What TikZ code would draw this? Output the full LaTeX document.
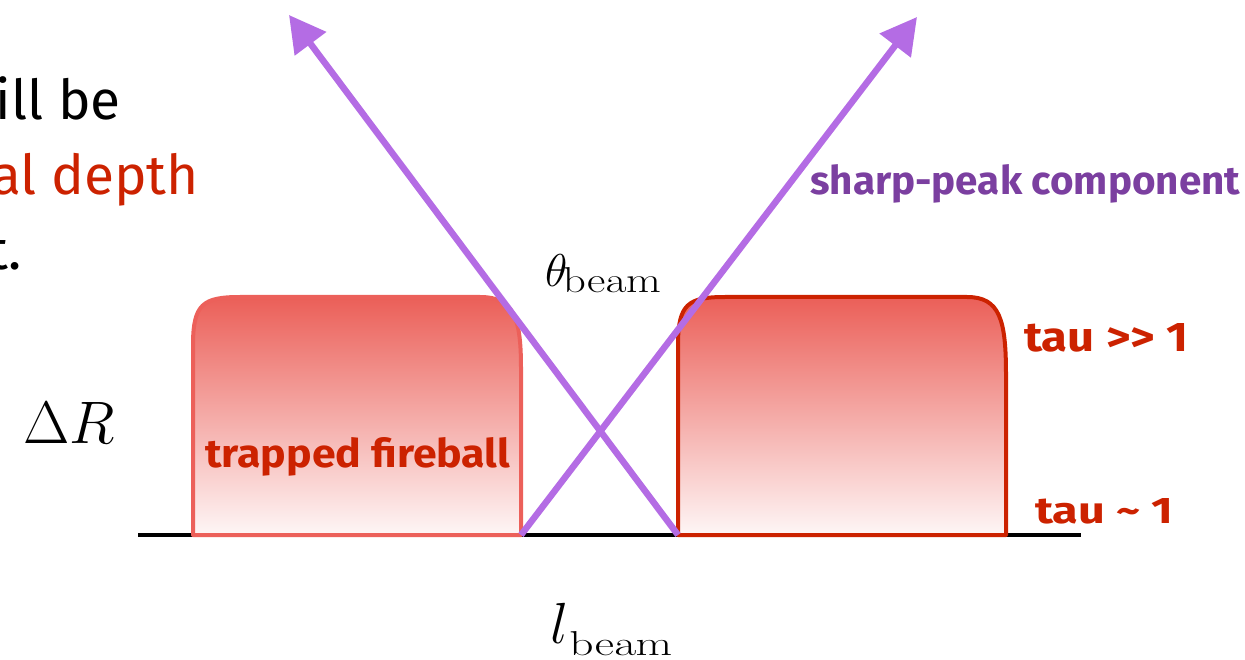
\RequirePackage{fix-cm}
\documentclass[tikz,border=0pt]{standalone}
\usepackage[no-math]{fontspec}
\setmainfont{Fira Sans}
\usepackage{graphicx}
\usetikzlibrary{arrows.meta}
\definecolor{beamviolet}{HTML}{B46CE4}
\definecolor{textviolet}{HTML}{7B3FA0}
\definecolor{firered}{HTML}{CC2200}
\definecolor{softred}{HTML}{EC605A}
\definecolor{gradtop}{HTML}{EB5F58}
\definecolor{gradbot}{HTML}{FEF6F6}
\newcommand{\fitbox}[3]{\resizebox{#1}{#2}{#3}}
\tikzset{
  beamarrow/.style={draw=beamviolet, line width=6.5pt, -{Triangle[length=36pt,width=38pt]}},
  fireball/.style={top color=gradtop, bottom color=gradbot, line width=4pt, line join=round},
  redlabel/.style={inner sep=0pt, anchor=base west, text=firered, font=\bfseries},
  mathlabel/.style={inner sep=0pt, anchor=base west},
  sidetext/.style={inner sep=0pt, anchor=base east, font=\fontsize{55}{60}\selectfont}
}
\begin{document}
\begin{tikzpicture}[x=1pt,y=-1pt]
\useasboundingbox (0,0) rectangle (1245,660);
\clip (0,0) rectangle (1245,660);

% left cut-off text
\node[sidetext] (t1) at (121,120) {ill be};
\node[sidetext, text=firered] (t2) at (199,195) {al depth};
\node[sidetext] (t3) at (22,270) {t.};

% ground line
\coordinate (g1) at (138,535);
\coordinate (g2) at (1081,535);
\draw[line width=4pt] (g1) -- (g2);

% trapped fireball (left)
\draw[fireball, draw=softred] (193,535) -- (193,345) .. controls (193,304) and (203,297) .. (240,297) -- (480,297) .. controls (514,297) and (521,318) .. (521,368) -- (521,535) -- cycle;
% right box
\draw[fireball, draw=firered] (678,535) -- (678,345) .. controls (678,304) and (688,297) .. (725,297) -- (967,297) .. controls (1000,297) and (1006,320) .. (1006,375) -- (1006,535) -- cycle;

% beams
\coordinate (s1) at (678,535);
\coordinate (e1) at (289,15);
\coordinate (s2) at (521,535);
\coordinate (e2) at (917,17);
\draw[beamarrow] (s1) -- (e1);
\draw[beamarrow] (s2) -- (e2);

% labels
\node[mathlabel, font=\fontsize{46}{50}\selectfont] (theta) at (545,287)
  {$\theta$\hspace{-4.5pt}\raisebox{-6pt}{\fitbox{98pt}{25pt}{$\mathrm{beam}$}}};
\node[mathlabel, font=\fontsize{60}{66}\selectfont] (dR) at (23,443) {$\Delta R$};
\node[mathlabel, font=\fontsize{58}{64}\selectfont] (lb) at (550,643)
  {$l$\hspace{1pt}\raisebox{-12pt}{\fitbox{103pt}{24pt}{$\mathrm{beam}$}}};

\node[redlabel] (tf) at (205,467) {\fitbox{305pt}{30pt}{trapped fireball}};
\node[redlabel, text=textviolet] (sp) at (810,195) {\fitbox{430pt}{30pt}{sharp-peak component}};
\node[redlabel] (tau1) at (1024,352) {\fitbox{164pt}{28pt}{tau >{}> 1}};
\node[redlabel] (tau2) at (1035,523) {\fitbox{138pt}{25pt}{tau \textasciitilde\ 1}};
\end{tikzpicture}
\end{document}
